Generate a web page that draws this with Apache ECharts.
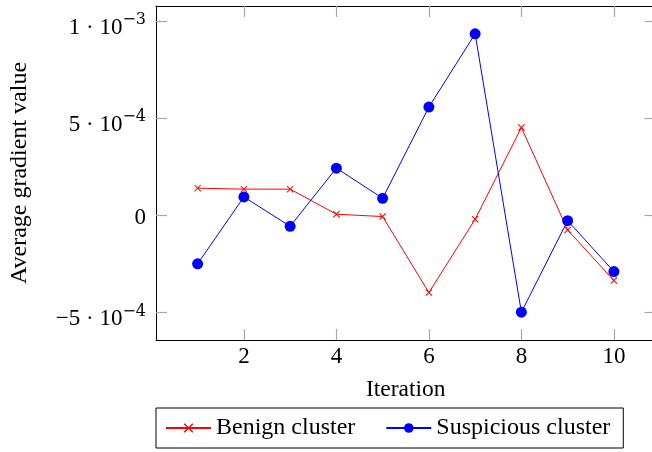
<!DOCTYPE html>
<html>
<head>
<meta charset="utf-8">
<script src="https://cdn.jsdelivr.net/npm/echarts@6/dist/echarts.min.js"></script>
<style>
html,body{margin:0;padding:0;background:#fff;}
#chart{width:652px;height:452px;}
</style>
</head>
<body>
<div id="chart"></div>
<script>
const iterations = [1, 2, 3, 4, 5, 6, 7, 8, 9, 10];
const benign = [1.39e-4, 1.34e-4, 1.34e-4, 0.05e-4, -0.07e-4, -3.98e-4, -0.21e-4, 4.51e-4, -0.76e-4, -3.36e-4];
const suspicious = [-2.5e-4, 0.94e-4, -0.57e-4, 2.42e-4, 0.87e-4, 5.56e-4, 9.33e-4, -4.99e-4, -0.28e-4, -2.9e-4];
const xTicks = [2, 4, 6, 8, 10];
const yTicks = [-5e-4, 0, 5e-4, 1e-3];
const yTickMantissa = ['\u22125 \u00b7 10', '0', '5 \u00b7 10', '1 \u00b7 10'];
const yTickExponent = ['\u22124', '', '\u22124', '\u22123'];
const seriesNames = ['Benign cluster', 'Suspicious cluster'];

const FONT = "'Liberation Serif', 'DejaVu Serif', serif";
const xMin = 0.1, xMax = 10.9;
const yMin = -6.42e-4, yMax = 1.076e-3;

function yLabel(v) {
  for (let i = 0; i < yTicks.length; i++) {
    if (Math.abs(v - yTicks[i]) < 1e-9) {
      if (!yTickExponent[i]) return '{z|' + yTickMantissa[i] + '}';
      return '{b|' + yTickMantissa[i] + '}{s|' + yTickExponent[i] + '}';
    }
  }
  return '';
}

const tickStyle = {show: true, inside: true, length: 11, lineStyle: {color: '#a8a8a8', width: 1.2}};
const lineAxis = {show: true, onZero: false, lineStyle: {color: '#000', width: 1}};

const crossPath = 'path://M0,1L1,0L5,4L9,0L10,1L6,5L10,9L9,10L5,6L1,10L0,9L4,5Z';

const chart = echarts.init(document.getElementById('chart'), null, {renderer: 'canvas'});
chart.setOption({
  animation: false,
  textStyle: {fontFamily: FONT, color: '#000'},
  grid: {left: 156, top: 6, width: 499.5, height: 334, containLabel: false, outerBoundsMode: 'none'},
  legend: {
    left: 156, top: 408,
    orient: 'horizontal',
    padding: [8, 13, 8, 9],
    borderColor: '#000', borderWidth: 1,
    itemWidth: 45, itemHeight: 12, itemGap: 30,
    textStyle: {fontFamily: FONT, fontSize: 24, color: '#000'},
    data: seriesNames
  },
  xAxis: [{
    type: 'value', position: 'bottom', min: xMin, max: xMax,
    axisLine: lineAxis,
    axisTick: Object.assign({customValues: xTicks}, tickStyle),
    axisLabel: {customValues: xTicks, margin: 5, fontFamily: FONT, fontSize: 23, color: '#000'},
    splitLine: {show: false},
    name: 'Iteration', nameLocation: 'middle', nameGap: 38,
    nameTextStyle: {fontFamily: FONT, fontSize: 23.5, color: '#000'}
  }, {
    type: 'value', position: 'top', min: xMin, max: xMax,
    axisLine: lineAxis,
    axisTick: Object.assign({customValues: xTicks}, tickStyle),
    axisLabel: {show: false},
    splitLine: {show: false}
  }],
  yAxis: [{
    type: 'value', position: 'left', min: yMin, max: yMax,
    axisLine: lineAxis,
    axisTick: Object.assign({customValues: yTicks}, tickStyle),
    axisLabel: {
      customValues: yTicks, margin: 10, fontFamily: FONT, fontSize: 23, color: '#000',
      formatter: yLabel,
      rich: {
        b: {fontFamily: FONT, fontSize: 23, padding: [13.5, 0, 0, 0], color: '#000'},
        s: {fontFamily: "'DejaVu Serif', serif", fontSize: 16, padding: [9.5, 0, 0, 0], verticalAlign: 'top', color: '#000'},
        z: {fontFamily: FONT, fontSize: 23, padding: [5, 0, 0, 0], color: '#000'}
      }
    },
    splitLine: {show: false},
    name: 'Average gradient value', nameLocation: 'middle', nameGap: 124,
    nameTextStyle: {fontFamily: FONT, fontSize: 24, color: '#000'}
  }, {
    type: 'value', position: 'right', min: yMin, max: yMax,
    axisLine: lineAxis,
    axisTick: Object.assign({customValues: yTicks}, tickStyle),
    axisLabel: {show: false},
    splitLine: {show: false}
  }],
  series: [{
    name: seriesNames[0], type: 'line',
    xAxisIndex: 0, yAxisIndex: 0,
    data: iterations.map((x, i) => [x, benign[i]]),
    symbol: crossPath, symbolSize: 7,
    lineStyle: {color: '#ff0000', width: 1},
    itemStyle: {color: '#ff0000'},
    clip: false
  }, {
    name: seriesNames[1], type: 'line',
    xAxisIndex: 0, yAxisIndex: 0,
    data: iterations.map((x, i) => [x, suspicious[i]]),
    symbol: 'circle', symbolSize: 11,
    lineStyle: {color: '#0000ff', width: 1},
    itemStyle: {color: '#0000ff'},
    clip: false
  }]
});
</script>
</body>
</html>
